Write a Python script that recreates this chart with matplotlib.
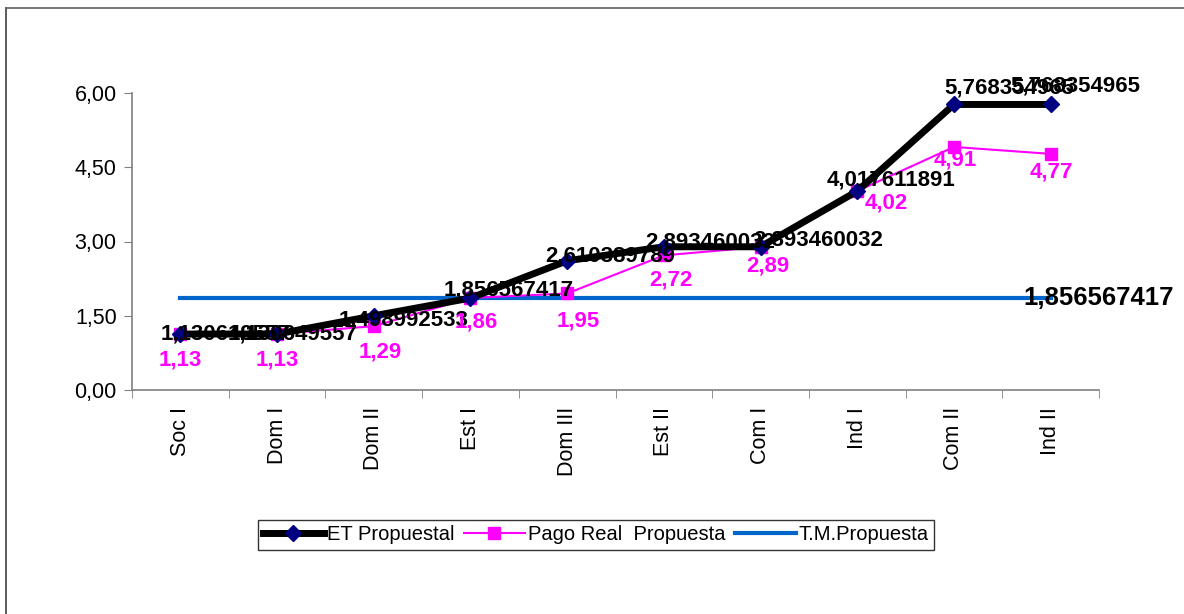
import matplotlib.pyplot as plt
from matplotlib.lines import Line2D

plt.rcParams['font.family'] = ['Liberation Sans', 'DejaVu Sans']

categories = ["Soc I", "Dom I", "Dom II", "Est I", "Dom III",
              "Est II", "Com I", "Ind I", "Com II", "Ind II"]
et_propuesta = [1.130649557, 1.130649557, 1.498992533, 1.856567417, 2.610389789,
                2.893460032, 2.893460032, 4.017611891, 5.768354965, 5.768354965]
pago_real = [1.13, 1.13, 1.29, 1.86, 1.95, 2.72, 2.89, 4.02, 4.91, 4.77]
tm_propuesta = 1.856567417

# label offsets in pixels (dx, dy), y downward as in the picture
et_offsets = [(45, 0), (16, 0), (30, 4), (38, -8), (43, -5),
              (46, -5), (58, -7), (34, -11), (55, -16), (25, -18)]
pr_offsets = [(0, 26), (0, 26), (6, 26), (6, 24), (11, 28),
              (7, 25), (7, 19), (29, 12), (1, 13), (1, 18)]

fig = plt.figure(figsize=(11.84, 6.14), dpi=100)
# chart area border: only top and left edges show
fig.add_artist(Line2D([6 / 1184, 6 / 1184], [0, 1 - 8 / 614], transform=fig.transFigure,
                      color='#404040', linewidth=1.2))
fig.add_artist(Line2D([6 / 1184, 1], [1 - 8 / 614, 1 - 8 / 614], transform=fig.transFigure,
                      color='#606060', linewidth=1.2))
ax = fig.add_axes([132 / 1184, 1 - 390 / 614, 967 / 1184, 297 / 614])

x = list(range(len(categories)))
ax.plot(x, et_propuesta, color='black', linewidth=5, marker='D', markersize=8,
        markerfacecolor='#000080', markeredgecolor='#000080', label='ET Propuestal', zorder=4)
ax.plot(x, pago_real, color='#FF00FF', linewidth=1.5, marker='s', markersize=9,
        markerfacecolor='#FF00FF', markeredgecolor='#FF00FF', label='Pago Real  Propuesta', zorder=3)
ax.plot([x[0], x[-1]], [tm_propuesta, tm_propuesta], color='#0066CC', linewidth=3,
        label='T.M.Propuesta', zorder=2)

for i, v in enumerate(et_propuesta):
    dx, dy = et_offsets[i]
    ax.annotate(f"{v:.9f}".replace('.', ','), (i, v), xytext=(dx * 0.72, -dy * 0.72),
                textcoords='offset points', ha='center', va='center',
                fontsize=16, fontweight='bold', color='black', zorder=6)
for i, v in enumerate(pago_real):
    dx, dy = pr_offsets[i]
    ax.annotate(f"{v:.2f}".replace('.', ','), (i, v), xytext=(dx * 0.72, -dy * 0.72),
                textcoords='offset points', ha='center', va='center',
                fontsize=16, fontweight='bold', color='#FF00FF', zorder=6)
ax.annotate(f"{tm_propuesta:.9f}".replace('.', ','), (x[-1], tm_propuesta),
            xytext=(-27 * 0.72, 0), textcoords='offset points', ha='left', va='center',
            fontsize=18.5, fontweight='bold', color='black', zorder=6)

ax.set_xlim(-0.5, len(categories) - 0.5)
ax.set_ylim(0, 6)
ax.set_yticks([0, 1.5, 3, 4.5, 6])
ax.set_yticklabels([f"{t:.2f}".replace('.', ',') for t in [0, 1.5, 3, 4.5, 6]], fontsize=15.5)
ax.set_xticks(x)
ax.set_xticklabels(categories, rotation=90, fontsize=15.5)
ax.set_xticks([i + 0.5 for i in range(-1, len(categories))], minor=True)
ax.tick_params(axis='x', which='major', length=0, pad=12)
ax.tick_params(axis='x', which='minor', length=6, color='#808080', direction='out')
ax.tick_params(axis='y', length=6, color='#808080', direction='out', pad=5)
for s in ['top', 'right']:
    ax.spines[s].set_visible(False)
for s in ['left', 'bottom']:
    ax.spines[s].set_color('#808080')
    ax.spines[s].set_linewidth(1.2)

leg = ax.legend(loc='center', bbox_to_anchor=(596 / 1184, 1 - 535 / 614),
                bbox_transform=fig.transFigure, ncol=3, frameon=True, fancybox=False,
                edgecolor='black', fontsize=14.5, handlelength=3.0, handletextpad=0.15,
                columnspacing=0.5, borderpad=0.25, borderaxespad=0)
leg.get_frame().set_linewidth(1)

fig.savefig('out.png', dpi=100)
